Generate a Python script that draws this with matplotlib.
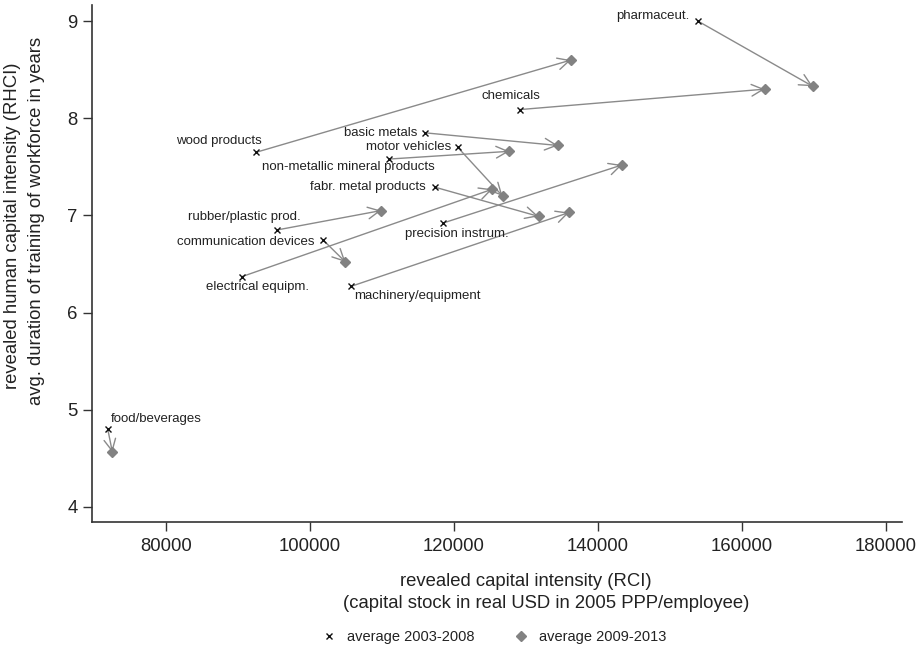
import matplotlib
matplotlib.use("Agg")
import matplotlib.pyplot as plt
from matplotlib.lines import Line2D

plt.rcParams['font.family'] = ['Liberation Sans', 'DejaVu Sans']

# Industries: revealed capital intensity (RCI) and revealed human capital intensity (RHCI)
industries = ["pharmaceut.", "chemicals", "wood products", "basic metals", "motor vehicles",
              "non-metallic mineral products", "fabr. metal products", "rubber/plastic prod.",
              "communication devices", "precision instrum.", "electrical equipm.",
              "machinery/equipment", "food/beverages"]
rci_0308 = [153900, 129200, 92550, 116050, 120550, 110950, 117400, 95450, 101800,
            118450, 90600, 105750, 71950]
rhci_0308 = [9.00, 8.09, 7.65, 7.85, 7.70, 7.58, 7.29, 6.85, 6.75, 6.92, 6.37, 6.27, 4.80]
rci_0913 = [169800, 163150, 136250, 134450, 126750, 127700, 131750, 109900, 104950,
            143350, 125350, 136000, 72600]
rhci_0913 = [8.33, 8.30, 8.60, 7.72, 7.20, 7.66, 6.99, 7.05, 6.52, 7.52, 7.27, 7.03, 4.56]

# label placement relative to the 2003-2008 marker (offset in points, alignment)
label_pos = {
    "pharmaceut.": ((-6, 4), "right", "center"),
    "chemicals": ((-7, 10), "center", "center"),
    "wood products": ((4, 8), "right", "center"),
    "basic metals": ((-5.5, 0), "right", "center"),
    "motor vehicles": ((-5, 0), "right", "center"),
    "non-metallic mineral products": ((-29, -5.5), "center", "center"),
    "fabr. metal products": ((-7, 0), "right", "center"),
    "rubber/plastic prod.": ((17, 9.5), "right", "center"),
    "communication devices": ((-6, -2), "right", "center"),
    "precision instrum.": ((10.5, -8), "center", "center"),
    "electrical equipm.": ((11, -7.5), "center", "center"),
    "machinery/equipment": ((2, -7), "left", "center"),
    "food/beverages": ((2, 7), "left", "center"),
}

x_ticks = [80000, 100000, 120000, 140000, 160000, 180000]
y_ticks = [4, 5, 6, 7, 8, 9]

grey = "#8a8a8a"
diamond_grey = "#828282"
axis_col = "#333333"

fig = plt.figure(figsize=(9.24, 6.46), dpi=100)
ax = fig.add_axes([0.0996, 0.192, 0.8764, 0.800])

for i, name in enumerate(industries):
    ax.annotate("", xy=(rci_0913[i], rhci_0913[i]), xytext=(rci_0308[i], rhci_0308[i]),
                arrowprops=dict(arrowstyle="->,head_length=0.7,head_width=0.35",
                                color=grey, lw=1.0, shrinkA=0, shrinkB=0,
                                mutation_scale=12), zorder=2)

ax.plot(rci_0913, rhci_0913, linestyle="none", marker="D", markersize=5.5,
        color=diamond_grey, markeredgecolor=diamond_grey, zorder=3)
ax.plot(rci_0308, rhci_0308, linestyle="none", marker="x", markersize=4,
        color="#111111", markeredgewidth=1.0, zorder=4)

for i, name in enumerate(industries):
    (dx, dy), ha, va = label_pos[name]
    ax.annotate(name, xy=(rci_0308[i], rhci_0308[i]), xytext=(dx, dy),
                textcoords="offset points", ha=ha, va=va, fontsize=9.5,
                color="#222222", zorder=5)

ax.set_xlim(69770, 182180)
ax.set_ylim(3.843, 9.165)
ax.set_xticks(x_ticks)
ax.set_xticklabels([str(t) for t in x_ticks])
ax.set_yticks(y_ticks)
ax.set_yticklabels([str(t) for t in y_ticks])

for side in ("top", "right"):
    ax.spines[side].set_visible(False)
for side in ("left", "bottom"):
    ax.spines[side].set_color(axis_col)
    ax.spines[side].set_linewidth(1.2)
ax.tick_params(axis="both", direction="out", length=6.5, width=1.0, color=axis_col,
               labelsize=13.3, labelcolor="#222222")
ax.tick_params(axis="x", pad=5)
ax.tick_params(axis="y", pad=4)

# axis titles
fig.text(526 / 924, 1 - 582 / 646, "revealed capital intensity (RCI)", ha="center",
         va="center", fontsize=13.3, color="#222222")
fig.text(546 / 924, 1 - 604 / 646, "(capital stock in real USD in 2005 PPP/employee)",
         ha="center", va="center", fontsize=13.3, color="#222222")
fig.text(13 / 924, 1 - 226 / 646, "revealed human capital intensity (RHCI)", ha="center",
         va="center", rotation=90, fontsize=13.3, color="#222222")
fig.text(37 / 924, 1 - 221 / 646, "avg. duration of training of workforce in years",
         ha="center", va="center", rotation=90, fontsize=13.3, color="#222222")

handles = [
    Line2D([], [], linestyle="none", marker="x", markersize=4, color="#111111",
           markeredgewidth=1.0),
    Line2D([], [], linestyle="none", marker="D", markersize=5.5, color=diamond_grey),
]
fig.legend(handles, ["average 2003-2008", "average 2009-2013"], ncol=2, frameon=False,
           loc="center", bbox_to_anchor=(494 / 924, 1 - 637 / 646), fontsize=10.5,
           handletextpad=0.7, columnspacing=2.7, handlelength=1.0,
           labelcolor="#222222")

fig.savefig("out.png", dpi=100, facecolor="white")
